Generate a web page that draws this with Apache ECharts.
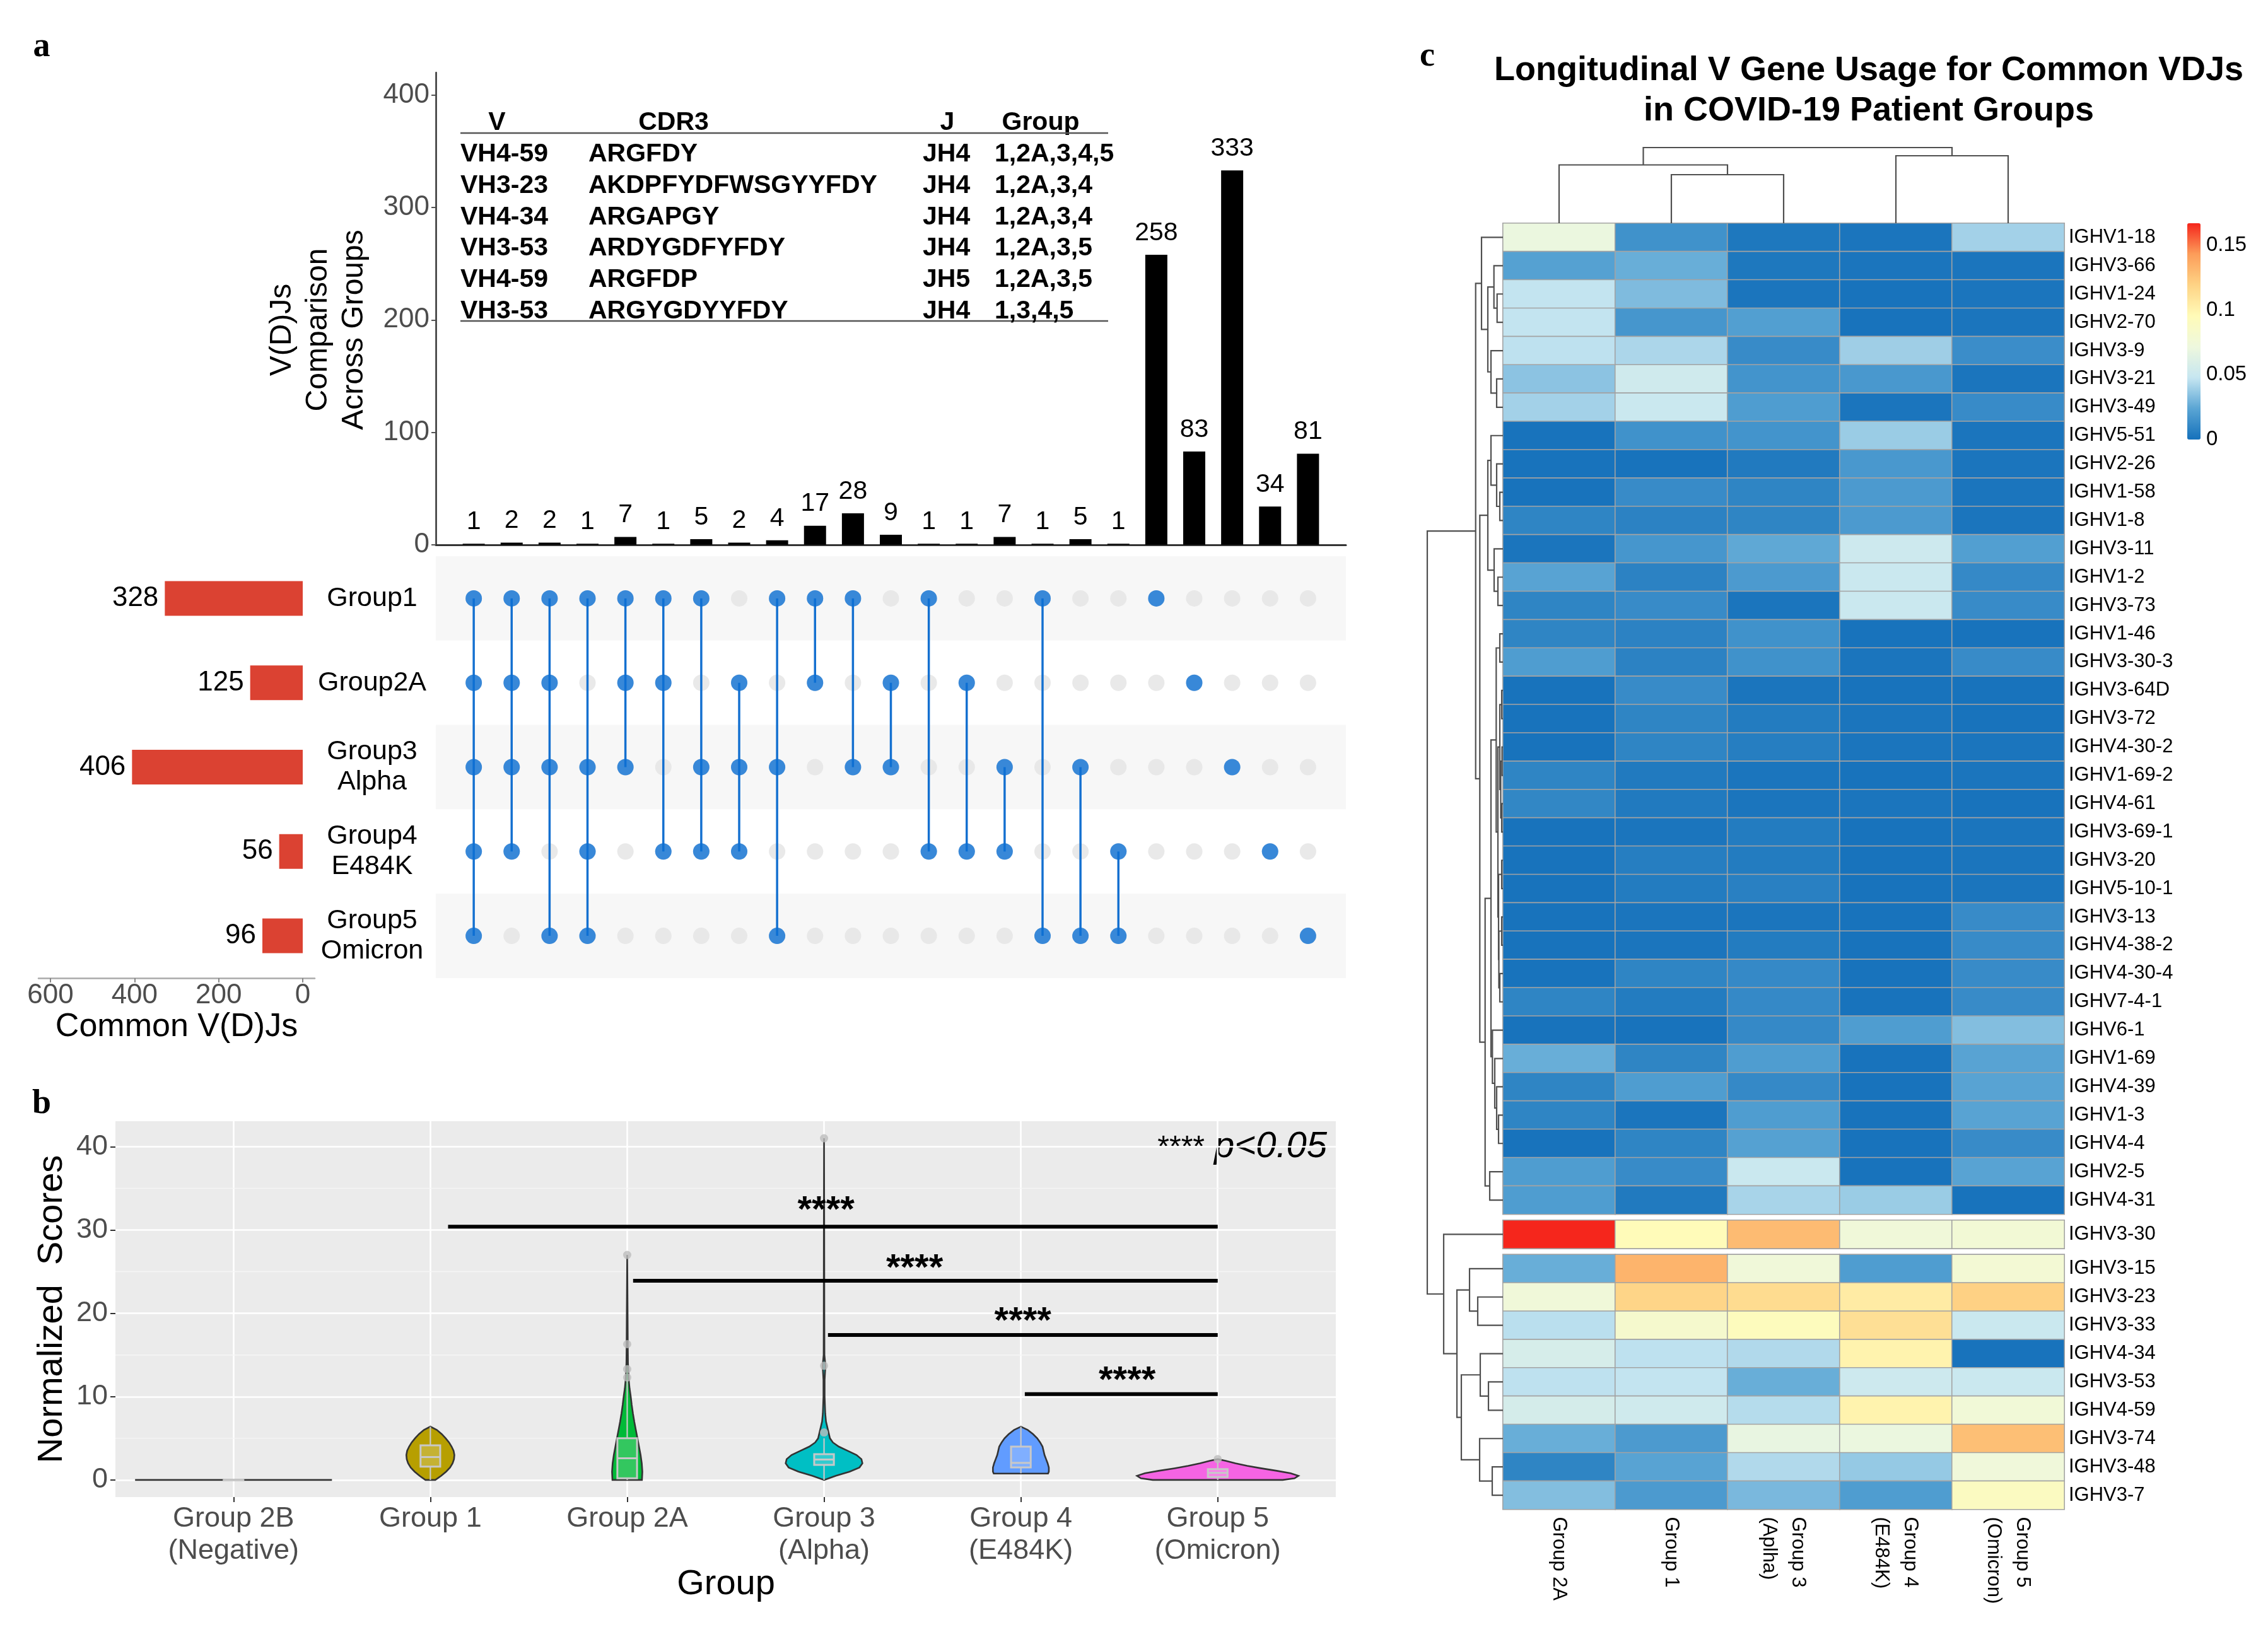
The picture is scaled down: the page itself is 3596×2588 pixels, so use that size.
<!DOCTYPE html>
<html><head><meta charset="utf-8">
<script src="https://cdn.jsdelivr.net/npm/echarts@6/dist/echarts.min.js"></script>
<style>html,body{margin:0;padding:0;background:#fff}#c{width:3596px;height:2588px}</style>
</head><body><div id="c"></div>
<script>
const FF = '"Liberation Sans", Arial, sans-serif';

// ================= Panel a data =================
const setNames = ['Group1','Group2A','Group3\nAlpha','Group4\nE484K','Group5\nOmicron'];
const setSizes = [328,125,406,56,96];
const setTicks = [0,200,400,600];
const intersectionCounts = [1,2,2,1,7,1,5,2,4,17,28,9,1,1,7,1,5,1,258,83,333,34,81];
const intersectionMembers = [[0,1,2,3,4],[0,1,2,3],[0,1,2,4],[0,2,3,4],[0,1,2],[0,1,3],[0,2,3],[1,2,3],[0,2,4],[0,1],[0,2],[1,2],[0,3],[1,3],[2,3],[0,4],[2,4],[3,4],[0],[1],[2],[3],[4]];
const countTicks = [0,100,200,300,400];
const tableHeader = ['V','CDR3','J','Group'];
const tableV = ['VH4-59','VH3-23','VH4-34','VH3-53','VH4-59','VH3-53'];
const tableCDR3 = ['ARGFDY','AKDPFYDFWSGYYFDY','ARGAPGY','ARDYGDFYFDY','ARGFDP','ARGYGDYYFDY'];
const tableJ = ['JH4','JH4','JH4','JH4','JH5','JH4'];
const tableGroup = ['1,2A,3,4,5','1,2A,3,4','1,2A,3,4','1,2A,3,5','1,2A,3,5','1,3,4,5'];

// ================= Panel b data =================
const violinGroups = ['Group 2B\n(Negative)','Group 1','Group 2A','Group 3\n(Alpha)','Group 4\n(E484K)','Group 5\n(Omicron)'];
const violinColors = ['#F8766D','#B79F00','#00BA38','#00BFC4','#619CFF','#F564E3'];
const scoreTicks = [0,10,20,30,40];
const scoreMinor = [5,15,25,35];
const violinY = [
  [0,0],
  [0,0.5,1,1.5,2,2.5,3,3.5,4,4.5,5,5.5,6,6.4],
  [0,1,2,3,4,5,6,7,8,9,10,11,12,13,14,16,20,27],
  [0,0.5,1,1.5,2,2.5,3,3.5,4,4.5,5,6,7,8,10,12,13.7,15,20,30,41],
  [0.77,1,1.5,2,2.5,3,3.5,4,4.5,5,5.5,6,6.4],
  [0,0.2,0.5,0.8,1.1,1.4,1.7,2.0,2.3,2.5]
];
const violinW = [
  [0.5,0.5],
  [0.025,0.055,0.08,0.1,0.113,0.12,0.122,0.118,0.108,0.095,0.078,0.058,0.033,0],
  [0.075,0.077,0.074,0.068,0.06,0.052,0.044,0.036,0.029,0.023,0.018,0.012,0.008,0.006,0.004,0.003,0.002,0],
  [0,0.06,0.13,0.18,0.195,0.19,0.165,0.12,0.075,0.045,0.03,0.02,0.01,0.006,0.003,0.003,0.007,0.002,0.0015,0.001,0],
  [0.138,0.142,0.142,0.136,0.128,0.12,0.115,0.11,0.098,0.083,0.062,0.035,0],
  [0.33,0.39,0.41,0.37,0.3,0.22,0.15,0.09,0.04,0]
];
// [q1, median, q3, lowWhisker, highWhisker]
const boxStats = [
  [0,0,0,0,0],
  [1.6,2.75,4.15,0,6.4],
  [0.2,2.6,5.0,0,12],
  [1.8,2.45,3.1,0,5.0],
  [1.5,2.05,4.0,0.8,6.4],
  [0.35,0.85,1.3,0,2.3]
];
const outliers = [[2,27],[2,16.3],[2,13.3],[2,12.3],[3,41],[3,13.7],[3,5.7],[5,2.5]];
const sigBars = [[1.09,5,30.4],[2.03,5,23.9],[3.02,5,17.4],[4.02,5,10.3]];
const sigLabels = [[3.01,32.2],[3.46,25.3],[4.01,18.9],[4.54,11.8]];

// ================= Panel c data =================
const heatCols = ['Group 2A','Group 1','Group 3\n(Aplha)','Group 4\n(E484K)','Group 5\n(Omicron)'];
const heatRows = ['IGHV1-18','IGHV3-66','IGHV1-24','IGHV2-70','IGHV3-9','IGHV3-21','IGHV3-49','IGHV5-51','IGHV2-26','IGHV1-58','IGHV1-8','IGHV3-11','IGHV1-2','IGHV3-73','IGHV1-46','IGHV3-30-3','IGHV3-64D','IGHV3-72','IGHV4-30-2','IGHV1-69-2','IGHV4-61','IGHV3-69-1','IGHV3-20','IGHV5-10-1','IGHV3-13','IGHV4-38-2','IGHV4-30-4','IGHV7-4-1','IGHV6-1','IGHV1-69','IGHV4-39','IGHV1-3','IGHV4-4','IGHV2-5','IGHV4-31','IGHV3-30','IGHV3-15','IGHV3-23','IGHV3-33','IGHV4-34','IGHV3-53','IGHV4-59','IGHV3-74','IGHV3-48','IGHV3-7'];
const blockSizes = [35,1,9];
const heatValues = [
[0.070,0.015,0.003,0.002,0.040],
[0.022,0.027,0.003,0.002,0.002],
[0.047,0.032,0.002,0.001,0.002],
[0.047,0.017,0.021,0.001,0.002],
[0.046,0.042,0.012,0.039,0.013],
[0.035,0.053,0.016,0.018,0.002],
[0.040,0.050,0.020,0.002,0.012],
[0.001,0.015,0.016,0.038,0.002],
[0.001,0.001,0.004,0.018,0.002],
[0.001,0.012,0.009,0.019,0.002],
[0.009,0.008,0.009,0.019,0.002],
[0.002,0.017,0.025,0.052,0.021],
[0.023,0.008,0.019,0.050,0.011],
[0.009,0.012,0.002,0.050,0.012],
[0.009,0.008,0.015,0.001,0.001],
[0.020,0.008,0.015,0.002,0.012],
[0.001,0.012,0.002,0.001,0.001],
[0.001,0.009,0.005,0.002,0.001],
[0.001,0.009,0.006,0.002,0.002],
[0.009,0.004,0.002,0.001,0.002],
[0.010,0.004,0.002,0.002,0.001],
[0.001,0.002,0.005,0.001,0.002],
[0.001,0.006,0.005,0.001,0.002],
[0.001,0.005,0.007,0.001,0.002],
[0.001,0.002,0.002,0.001,0.012],
[0.001,0.002,0.005,0.001,0.012],
[0.001,0.009,0.011,0.001,0.012],
[0.009,0.005,0.011,0.001,0.012],
[0.001,0.001,0.011,0.020,0.033],
[0.027,0.009,0.020,0.001,0.023],
[0.009,0.020,0.011,0.001,0.023],
[0.009,0.002,0.020,0.001,0.023],
[0.001,0.009,0.022,0.001,0.012],
[0.020,0.012,0.050,0.001,0.023],
[0.020,0.004,0.041,0.038,0.001],
[0.167,0.095,0.130,0.075,0.077],
[0.027,0.133,0.075,0.020,0.078],
[0.075,0.118,0.114,0.105,0.120],
[0.045,0.082,0.092,0.112,0.050],
[0.057,0.046,0.043,0.100,0.001],
[0.046,0.047,0.027,0.052,0.050],
[0.056,0.053,0.044,0.100,0.076],
[0.027,0.019,0.068,0.070,0.128],
[0.009,0.023,0.043,0.037,0.074],
[0.033,0.019,0.031,0.020,0.090]
];
const colorTicks = [0,0.05,0.1,0.15];
const heatPalette = ['#1571bb','#5aa5d4','#c6e6f1','#eef8de','#fffbb8','#fed385','#fc9d5a','#f5261c'];
// dendrograms: [height, left, right]; leaves are row / column indices
const rowTree = [120,
  [43.3,
    [34, 0, [24, [14.3, 1, [9.3, 2, 3]], [19, 4, [10, 5, 6]]]],
    [36.7,
      [24, [19, 7, [10, 8, [5, 9, 10]]], [14, 11, [8, 12, 13]]],
      [28.3,
        [19,
          [10.7, [5, 14, 15],
            [8, [5, [2, 16, 17], [3.5, [1.5, 18, 19], [2, 20, 21]]],
                [7, [2, 22, 23], [6.5, [2, 24, 25], [5, 26, 27]]]]],
          [16.7, 28, [13, 29, [10, 30, [7, 31, 32]]]]],
        [21, 33, 34]]]],
  [94, 35,
    [73, [53, 36, [40, 37, 38]],
         [66, [36, 39, [23, 40, 41]], [37, 42, [17, 43, 44]]]]]
];
const colTree = [120, [92.5, 0, [77, 1, 2]], [107, 3, 4]];

// ================= layout =================
const ROWH = 44.9, GAP = 9.5, HTOP = 354, HLEFT = 2383, HW = 890;
const gapUnits = GAP / ROWH;
function rowPos(i){ let a = 0; for (let k = 0; k < blockSizes.length; k++){ if (i < a + blockSizes[k]) return i + 0.5 + k*gapUnits; a += blockSizes[k]; } return i; }
function buildLinks(tree, posOf){
  const links = [];
  (function walk(n){
    if (typeof n === 'number') return {p: posOf(n), h: 0};
    const a = walk(n[1]), b = walk(n[2]);
    links.push([a.h, a.p, n[0], b.h, b.p]);
    return {p: (a.p + b.p)/2, h: n[0]};
  })(tree);
  return links;
}
const rowLinks = buildLinks(rowTree, rowPos);
const colLinks = buildLinks(colTree, c => c + 0.5);

const chart = echarts.init(document.getElementById('c'), null, {renderer:'canvas', width:3596, height:2588});

const grids = [
  {left:691, top:115, width:1443, height:749},           // 0 top bars
  {left:691, top:882, width:1443, height:669},           // 1 matrix
  {left:61, top:882, width:438, height:669},             // 2 set sizes
  {left:183, top:1778, width:1935, height:596, show:true, backgroundColor:'#ebebeb', borderWidth:0}, // 3 violin
];
let curTop = HTOP;
blockSizes.forEach(n => { grids.push({left:HLEFT, top:curTop, width:HW, height:n*ROWH}); curTop += n*ROWH + GAP; });
const totalH = 45*ROWH + 2*GAP;
grids.push({left:2263, top:HTOP, width:HLEFT-2263, height:totalH}); // 7 row dendro
grids.push({left:HLEFT, top:234, width:HW, height:120});            // 8 col dendro
grids.push({left:3468, top:354, width:21, height:343});             // 9 colorbar axis

const tickGrey = '#4d4d4d';
const xAxes = [
  {gridIndex:0, type:'value', min:-1, max:23, axisLine:{show:true, onZero:false, lineStyle:{color:'#333', width:3}}, axisTick:{show:false}, axisLabel:{show:false}, splitLine:{show:false}},
  {gridIndex:1, type:'value', min:-1, max:23, show:false},
  {gridIndex:2, type:'value', min:-28.5, max:628.5, inverse:true, splitNumber:3,
    axisLine:{show:true, onZero:false, lineStyle:{color:'#aaa', width:2.5}},
    axisTick:{show:true, length:7, lineStyle:{color:'#888', width:2}, customValues:setTicks},
    axisLabel:{customValues:setTicks, fontSize:44, color:tickGrey, margin:6, formatter:v => setTicks.indexOf(v) >= 0 ? String(v) : ''},
    splitLine:{show:false}},
  {gridIndex:3, type:'value', min:-0.6, max:5.6, splitNumber:6,
    axisLine:{show:false, onZero:false},
    axisTick:{show:true, length:8, lineStyle:{color:'#333', width:2}, customValues:[0,1,2,3,4,5]},
    axisLabel:{customValues:[0,1,2,3,4,5], fontSize:45, color:tickGrey, lineHeight:51, margin:9, formatter:v => (Number.isInteger(v) && v >= 0 && v < violinGroups.length) ? violinGroups[v] : ''},
    splitLine:{show:true, lineStyle:{color:'#ffffff', width:2.6}}},
];
const yAxes = [
  {gridIndex:0, type:'value', min:0, max:420, splitNumber:4,
    axisLine:{show:true, onZero:false, lineStyle:{color:'#333', width:2.5}},
    axisTick:{show:true, length:7, lineStyle:{color:'#555', width:2}, customValues:countTicks},
    axisLabel:{customValues:countTicks, fontSize:44, color:tickGrey, margin:10, formatter:v => countTicks.indexOf(v) >= 0 ? String(v) : ''},
    splitLine:{show:false}},
  {gridIndex:1, type:'category', data:setNames, inverse:true,
    axisLine:{show:false}, axisTick:{show:false},
    axisLabel:{fontSize:43, color:'#000', align:'center', margin:101, lineHeight:48},
    splitArea:{show:true, interval:0, areaStyle:{color:['#f7f7f7','#ffffff']}}},
  {gridIndex:2, type:'category', data:setNames, inverse:true, show:false},
  {gridIndex:3, type:'value', min:-2.05, max:43.05, splitNumber:5,
    axisLine:{show:false, onZero:false},
    axisTick:{show:true, length:8, lineStyle:{color:'#333', width:2}, customValues:scoreTicks},
    axisLabel:{customValues:scoreTicks, fontSize:45, color:tickGrey, margin:12, formatter:v => scoreTicks.indexOf(v) >= 0 ? String(v) : ''},
    splitLine:{show:true, lineStyle:{color:'#ffffff', width:2.6}}},
];
// heatmap axes
let rowAcc = 0;
blockSizes.forEach((n, k) => {
  const last = k === blockSizes.length - 1;
  xAxes.push({gridIndex:4+k, type:'category', data:heatCols, axisLine:{show:false}, axisTick:{show:false}, splitLine:{show:false},
    axisLabel: last ? {show:true, interval:0, rotate:-90, fontSize:31, color:'#000', margin:12, lineHeight:46} : {show:false}});
  yAxes.push({gridIndex:4+k, type:'category', data:heatRows.slice(rowAcc, rowAcc+n), inverse:true, position:'right',
    axisLine:{show:false}, axisTick:{show:false}, splitLine:{show:false},
    axisLabel:{interval:0, fontSize:31, color:'#000', margin:7}});
  rowAcc += n;
});
xAxes.push({gridIndex:7, type:'value', min:0, max:120, inverse:true, show:false});
yAxes.push({gridIndex:7, type:'value', min:0, max:45 + 2*gapUnits, inverse:true, show:false});
xAxes.push({gridIndex:8, type:'value', min:0, max:5, show:false});
yAxes.push({gridIndex:8, type:'value', min:0, max:120, show:false});
xAxes.push({gridIndex:9, type:'value', min:0, max:1, show:false});
yAxes.push({gridIndex:9, type:'value', min:0, max:0.167, position:'right', interval:0.05,
  axisLine:{show:false, onZero:false}, axisTick:{show:false}, splitLine:{show:false},
  axisLabel:{customValues:colorTicks, fontSize:33, color:'#000', margin:9, formatter:v => colorTicks.indexOf(+(+v).toFixed(3)) >= 0 ? String(+(+v).toFixed(3)) : ''}});

const series = [];
// ---- panel a: intersection bars
series.push({type:'bar', xAxisIndex:0, yAxisIndex:0, data:intersectionCounts.map((v,i)=>[i,v]), barWidth:35,
  itemStyle:{color:'#000'}, label:{show:true, position:'top', distance:14, fontSize:41, color:'#000', formatter:p => String(p.value[1])}});
const allDots = []; intersectionMembers.forEach((m,c)=>{ for (let r=0;r<setNames.length;r++) allDots.push([c,r]); });
series.push({type:'scatter', xAxisIndex:1, yAxisIndex:1, data:allDots, symbolSize:26, itemStyle:{color:'#e3e3e3'}, z:2, silent:true});
series.push({type:'custom', xAxisIndex:1, yAxisIndex:1, z:3,
  data:intersectionMembers.map((m,c)=>[c, Math.min.apply(null,m), Math.max.apply(null,m)]),
  renderItem:(p, api) => { const a = api.coord([api.value(0), api.value(1)]), b = api.coord([api.value(0), api.value(2)]);
    return {type:'line', shape:{x1:a[0], y1:a[1], x2:b[0], y2:b[1]}, style:{stroke:'#1470d0', lineWidth:3.5}}; }});
const memberDots = []; intersectionMembers.forEach((m,c)=> m.forEach(r => memberDots.push([c,r])));
series.push({type:'scatter', xAxisIndex:1, yAxisIndex:1, data:memberDots, symbolSize:26, itemStyle:{color:'#0b6fd3'}, z:4});
series.push({type:'bar', xAxisIndex:2, yAxisIndex:2, data:setSizes, barWidth:55, itemStyle:{color:'#db4232'},
  label:{show:true, position:'left', distance:10, fontSize:44, color:'#000'}});

// ---- panel b
series.push({type:'custom', xAxisIndex:3, yAxisIndex:3, z:1, silent:true, data:scoreMinor.map(v=>[0,v]),
  renderItem:(p, api) => { const cs = p.coordSys; const y = api.coord([0, api.value(1)])[1];
    return {type:'line', shape:{x1:cs.x, y1:y, x2:cs.x+cs.width, y2:y}, style:{stroke:'#f6f6f6', lineWidth:1.4}}; }});
series.push({type:'custom', xAxisIndex:3, yAxisIndex:3, z:2, data:violinGroups.map((g,i)=>[i,0]),
  renderItem:(p, api) => { const i = p.dataIndex, ys = violinY[i], ws = violinW[i]; const pts = [];
    for (let k=0;k<ys.length;k++) pts.push(api.coord([i + ws[k], ys[k]]));
    for (let k=ys.length-1;k>=0;k--) pts.push(api.coord([i - ws[k], ys[k]]));
    return {type:'polygon', shape:{points:pts}, style:{fill:violinColors[i], stroke:'#333', lineWidth:2.6}}; }});
series.push({type:'custom', xAxisIndex:3, yAxisIndex:3, z:3, data:boxStats.map((s,i)=>[i, s[1]]),
  renderItem:(p, api) => { const i = p.dataIndex, s = boxStats[i], hw = 0.05, st = '#c8c8c8';
    const tl = api.coord([i-hw, s[2]]), br = api.coord([i+hw, s[0]]);
    const m1 = api.coord([i-hw, s[1]]), m2 = api.coord([i+hw, s[1]]);
    const a = api.coord([i, s[2]]), b = api.coord([i, s[4]]), c = api.coord([i, s[0]]), d = api.coord([i, s[3]]);
    return {type:'group', children:[
      {type:'line', shape:{x1:a[0],y1:a[1],x2:b[0],y2:b[1]}, style:{stroke:st, lineWidth:2.2}},
      {type:'line', shape:{x1:c[0],y1:c[1],x2:d[0],y2:d[1]}, style:{stroke:st, lineWidth:2.2}},
      {type:'rect', shape:{x:tl[0], y:tl[1], width:br[0]-tl[0], height:Math.max(br[1]-tl[1],0.5)}, style:{fill:'rgba(255,255,255,0.2)', stroke:st, lineWidth:3}},
      {type:'line', shape:{x1:m1[0],y1:m1[1],x2:m2[0],y2:m2[1]}, style:{stroke:st, lineWidth:3}}
    ]}; }});
series.push({type:'scatter', xAxisIndex:3, yAxisIndex:3, z:4, data:outliers, symbolSize:13, itemStyle:{color:'#bdbdbd'}});
series.push({type:'custom', xAxisIndex:3, yAxisIndex:3, z:5, data:sigBars,
  renderItem:(p, api) => { const a = api.coord([api.value(0), api.value(2)]), b = api.coord([api.value(1), api.value(2)]);
    return {type:'line', shape:{x1:a[0],y1:a[1],x2:b[0],y2:b[1]}, style:{stroke:'#000', lineWidth:6}}; }});
series.push({type:'custom', xAxisIndex:3, yAxisIndex:3, z:5, data:sigLabels,
  renderItem:(p, api) => { const a = api.coord([api.value(0), api.value(1)]);
    return {type:'text', x:a[0], y:a[1], style:{text:'****', font:'bold 58px ' + FF, fill:'#000', align:'center', verticalAlign:'middle'}}; }});

// ---- panel c heatmaps
const heatIdx = [];
rowAcc = 0;
blockSizes.forEach((n, k) => {
  const data = [];
  for (let r=0;r<n;r++) for (let c=0;c<heatCols.length;c++) data.push([c, r, heatValues[rowAcc+r][c]]);
  heatIdx.push(series.length);
  series.push({type:'heatmap', xAxisIndex:4+k, yAxisIndex:4+k, data:data, itemStyle:{borderColor:'#a3a3a3', borderWidth:1.6}});
  rowAcc += n;
});
series.push({type:'custom', xAxisIndex:7, yAxisIndex:7, data:rowLinks, silent:true,
  renderItem:(p, api) => { const v = i => api.value(i);
    const pts = [api.coord([v(0), v(1)]), api.coord([v(2), v(1)]), api.coord([v(2), v(4)]), api.coord([v(3), v(4)])];
    return {type:'polyline', shape:{points:pts}, style:{stroke:'#4f4f4f', lineWidth:2.2, fill:null}}; }});
series.push({type:'custom', xAxisIndex:8, yAxisIndex:8, data:colLinks, silent:true,
  renderItem:(p, api) => { const v = i => api.value(i);
    const pts = [api.coord([v(1), v(0)]), api.coord([v(1), v(2)]), api.coord([v(4), v(2)]), api.coord([v(4), v(3)])];
    return {type:'polyline', shape:{points:pts}, style:{stroke:'#4f4f4f', lineWidth:2.2, fill:null}}; }});

// ---- free text
const G = [];
function T(x, y, text, font, extra){ return Object.assign({type:'text', x:x, y:y, style:{text:text, font:font, fill:'#000', align:'center', verticalAlign:'middle'}}, extra||{}); }
const serif = 'bold 54px "Liberation Serif", "DejaVu Serif", serif';
G.push(T(66, 75, 'a', serif), T(66, 1751, 'b', serif), T(2263, 90, 'c', serif));
G.push({type:'text', x:505, y:523, rotation:Math.PI/2, style:{text:'V(D)Js\nComparison\nAcross Groups', font:'48px ' + FF, fill:'#000', align:'center', verticalAlign:'middle', lineHeight:57}});
const tb = 'bold 41px ' + FF;
const hdrX = [788, 1068, 1502, 1650];
tableHeader.forEach((h,i) => G.push(T(hdrX[i], 195, h, tb)));
G.push({type:'line', shape:{x1:730, y1:211, x2:1757, y2:211}, style:{stroke:'#555', lineWidth:2.5}});
G.push({type:'line', shape:{x1:730, y1:509, x2:1757, y2:509}, style:{stroke:'#555', lineWidth:2.5}});
const colX = [730, 933, 1463, 1577];
[tableV, tableCDR3, tableJ, tableGroup].forEach((col, ci) => col.forEach((t, r) => {
  G.push({type:'text', x:colX[ci], y:245 + r*49.7, style:{text:t, font:tb, fill:'#000', align:'left', verticalAlign:'middle'}});
}));
G.push(T(280, 1629, 'Common V(D)Js', '52px ' + FF));
G.push({type:'text', x:83, y:2076, rotation:Math.PI/2, style:{text:'Normalized  Scores', font:'56px ' + FF, fill:'#000', align:'center', verticalAlign:'middle'}});
G.push(T(1151, 2513, 'Group', '56px ' + FF));
G.push({type:'text', x:1910, y:1821, style:{text:'****', font:'48px ' + FF, fill:'#000', align:'right', verticalAlign:'middle'}});
G.push({type:'text', x:1925, y:1819, style:{text:'p<0.05', font:'italic 58px ' + FF, fill:'#000', align:'left', verticalAlign:'middle'}});
G.push(T(2963, 112, 'Longitudinal V Gene Usage for Common VDJs', 'bold 54px ' + FF));
G.push(T(2963, 176, 'in COVID-19 Patient Groups', 'bold 54px ' + FF));

chart.setOption({
  animation:false,
  backgroundColor:'#ffffff',
  textStyle:{fontFamily:FF},
  grid:grids, xAxis:xAxes, yAxis:yAxes, series:series,
  visualMap:{type:'continuous', min:0, max:0.167, seriesIndex:heatIdx, calculable:false, left:3468, top:354,
    itemWidth:21, itemHeight:343, padding:0, inRange:{color:heatPalette}},
  graphic:G
});
</script></body></html>
